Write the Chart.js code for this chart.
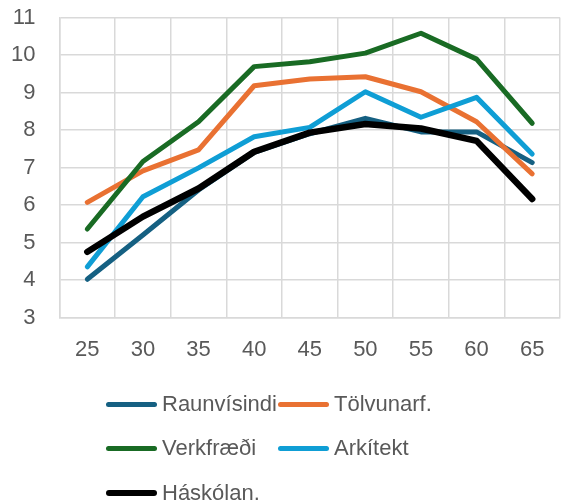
<!DOCTYPE html>
<html>
<head>
<meta charset="utf-8">
<script src="https://cdn.jsdelivr.net/npm/chart.js@4/dist/chart.umd.min.js"></script>
<style>
  html, body { margin: 0; padding: 0; background: #fff; }
  #wrap { position: relative; width: 561px; height: 504px; }
  #c { position: absolute; left: 0; top: 0; }
  #legend { position: absolute; left: 0; top: 0; width: 561px; height: 504px; pointer-events: none;
            font-family: "Liberation Sans", Arial, sans-serif; font-size: 22px; color: #595959; }
  .item { position: absolute; display: flex; align-items: center; height: 30px; white-space: nowrap; }
  .swatch { display: inline-block; width: 51px; height: 5px; border-radius: 3px; margin-right: 5px; }
</style>
</head>
<body>
<div id="wrap">
  <canvas id="c" width="561" height="504"></canvas>
  <div id="legend"></div>
</div>
<script>
const categories = ['25', '30', '35', '40', '45', '50', '55', '60', '65'];
const seriesNames = ['Raunvísindi', 'Tölvunarf.', 'Verkfræði', 'Arkítekt', 'Háskólan.'];
const raunvisindi = [4.02, 5.2, 6.4, 7.4, 7.9, 8.31, 7.95, 7.95, 7.13];
const tolvunarf   = [6.07, 6.91, 7.47, 9.18, 9.36, 9.42, 9.02, 8.22, 6.83];
const verkfraedi  = [5.36, 7.16, 8.22, 9.69, 9.82, 10.05, 10.58, 9.89, 8.18];
const arkitekt    = [4.35, 6.22, 6.99, 7.82, 8.07, 9.02, 8.34, 8.87, 7.36];
const haskolan    = [4.75, 5.69, 6.44, 7.42, 7.93, 8.16, 8.04, 7.71, 6.16];
const yTicks = [3, 4, 5, 6, 7, 8, 9, 10, 11];

const colors = ['#156082', '#E97132', '#196B24', '#0F9ED5', '#000000'];
const widths = [5, 5, 5, 5, 6.5];
const values = [raunvisindi, tolvunarf, verkfraedi, arkitekt, haskolan];

const datasets = seriesNames.map((name, i) => ({
  label: name,
  data: values[i],
  borderColor: colors[i],
  backgroundColor: colors[i],
  borderWidth: widths[i],
  pointRadius: 0,
  pointHoverRadius: 0,
  tension: 0,
  borderCapStyle: 'round',
  borderJoinStyle: 'round',
  fill: false,
  order: seriesNames.length - i
}));

const tickFont = { family: '"Liberation Sans", Arial, sans-serif', size: 22 };
const gridColor = '#d9d9d9';

const chart = new Chart(document.getElementById('c'), {
  type: 'line',
  data: { labels: categories, datasets },
  options: {
    responsive: false,
    animation: false,
    layout: { padding: { top: 17.5, right: 1, left: 0, bottom: 0 } },
    plugins: { legend: { display: false }, tooltip: { enabled: false } },
    scales: {
      x: {
        type: 'category',
        offset: true,
        grid: { offset: true, color: gridColor, lineWidth: 1.5, drawTicks: false },
        border: { color: gridColor, width: 1.5 },
        ticks: { color: '#595959', font: tickFont, padding: 19, maxRotation: 0 },
        afterFit: s => { s.height = 186.5; s.paddingLeft = 0; s.paddingRight = 0; }
      },
      y: {
        min: 3, max: 11,
        afterBuildTicks: s => { s.ticks = yTicks.map(v => ({ value: v })); },
        grid: { color: gridColor, lineWidth: 1.5, drawTicks: false },
        border: { color: gridColor, width: 1.5 },
        ticks: { color: '#595959', font: tickFont, padding: 24 },
        afterFit: s => { s.width = 59.5; s.paddingTop = 0; s.paddingBottom = 0; }
      }
    }
  }
});

// HTML legend built from the datasets
const legendPos = [
  { x: 106, y: 404 }, { x: 278, y: 404 },
  { x: 106, y: 448 }, { x: 278, y: 448 },
  { x: 106, y: 493 }
];
const legend = document.getElementById('legend');
datasets.forEach((d, i) => {
  const it = document.createElement('div');
  it.className = 'item';
  it.style.left = legendPos[i].x + 'px';
  it.style.top = (legendPos[i].y - 15) + 'px';
  const sw = document.createElement('span');
  sw.className = 'swatch';
  sw.style.background = d.borderColor;
  if (i === 4) { sw.style.height = '6px'; }
  const tx = document.createElement('span');
  tx.textContent = d.label;
  it.appendChild(sw);
  it.appendChild(tx);
  legend.appendChild(it);
});
</script>
</body>
</html>
